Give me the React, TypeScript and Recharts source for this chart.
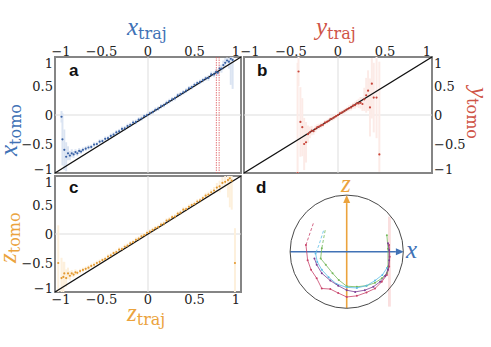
import React from "react";
import { ScatterChart, Scatter, XAxis, YAxis, ErrorBar, ReferenceLine, ReferenceArea, ReferenceDot } from "recharts";

const TICKS = [-1, -0.5, 0, 0.5, 1];

// panel a: x_traj vs x_tomo (errors: one value, or [below, above])
const aTraj = [-0.93, -0.92, -0.9, -0.88, -0.86, -0.84, -0.82, -0.8, -0.78, -0.76, -0.74, -0.72, -0.7, -0.67, -0.64, -0.61, -0.58, -0.55, -0.52, -0.49, -0.46, -0.43, -0.4, -0.37, -0.34, -0.31, -0.28, -0.25, -0.22, -0.19, -0.16, -0.13, -0.1, -0.07, -0.04, -0.01, 0.02, 0.05, 0.08, 0.11, 0.14, 0.17, 0.2, 0.23, 0.26, 0.29, 0.32, 0.35, 0.38, 0.41, 0.44, 0.47, 0.5, 0.53, 0.56, 0.59, 0.62, 0.65, 0.68, 0.71, 0.73, 0.75, 0.77, 0.79, 0.81, 0.83, 0.85, 0.87, 0.89, 0.91];
const aTomo = [-0.03, -0.42, -0.6, -0.72, -0.66, -0.7, -0.66, -0.68, -0.64, -0.66, -0.62, -0.63, -0.6, -0.58, -0.56, -0.55, -0.51, -0.5, -0.46, -0.45, -0.41, -0.4, -0.36, -0.34, -0.3, -0.28, -0.24, -0.23, -0.19, -0.17, -0.13, -0.12, -0.08, -0.06, -0.02, 0, 0.03, 0.05, 0.09, 0.11, 0.15, 0.17, 0.21, 0.24, 0.27, 0.29, 0.34, 0.36, 0.39, 0.42, 0.46, 0.48, 0.52, 0.55, 0.57, 0.6, 0.63, 0.64, 0.7, 0.7, 0.74, 0.73, 0.8, 0.8, 0.86, 0.9, 0.94, 0.92, 0.97, 0.95];
const aErr = [0.1, 0.45, 0.35, 0.25, 0.12, 0.08, 0.07, 0.06, 0.05, 0.05, 0.05, 0.04, 0.04, 0.04, 0.04, 0.04, 0.04, 0.04, 0.04, 0.04, 0.04, 0.04, 0.04, 0.04, 0.04, 0.04, 0.04, 0.04, 0.04, 0.04, 0.04, 0.04, 0.04, 0.04, 0.04, 0.04, 0.04, 0.04, 0.04, 0.04, 0.04, 0.04, 0.04, 0.04, 0.04, 0.04, 0.04, 0.04, 0.04, 0.04, 0.04, 0.04, 0.04, 0.04, 0.04, 0.04, 0.04, 0.05, 0.05, 0.05, 0.05, 0.06, 0.06, 0.07, 0.08, 0.08, 0.05, [0.12, 0.06], [0.45, 0.03], [0.5, 0.05]];
const aMarks = [0.735, 0.765];

// panel b: y_traj vs y_tomo
const bTraj = [-0.43, -0.42, -0.4, -0.38, -0.36, -0.34, -0.32, -0.3, -0.28, -0.26, -0.24, -0.22, -0.2, -0.18, -0.16, -0.14, -0.12, -0.1, -0.08, -0.06, -0.04, -0.02, 0, 0.02, 0.04, 0.06, 0.08, 0.1, 0.12, 0.14, 0.16, 0.18, 0.2, 0.22, 0.24, 0.26, 0.28, 0.3, 0.32, 0.34, 0.36, 0.38, 0.41, 0.44];
const bTomo = [-1, 0.75, -0.12, -0.21, -0.5, -0.47, -0.33, -0.3, -0.27, -0.28, -0.24, -0.21, -0.2, -0.18, -0.17, -0.13, -0.12, -0.1, -0.07, -0.06, -0.04, -0.02, 0, 0.03, 0.04, 0.06, 0.08, 0.1, 0.12, 0.13, 0.16, 0.17, 0.2, 0.2, 0.21, 0.19, 0.27, 0.34, 0.42, 0.13, 0.54, 0.3, 0.3, -0.68];
const bErr = [[0, 1.9], 0.25, 0.6, 0.5, 0.45, 0.35, 0.15, 0.1, 0.08, 0.06, 0.06, 0.05, 0.05, 0.05, 0.04, 0.04, 0.04, 0.04, 0.04, 0.04, 0.04, 0.04, 0.04, 0.04, 0.04, 0.04, 0.04, 0.04, 0.05, 0.05, 0.05, 0.06, 0.06, 0.08, 0.1, 0.12, 0.2, 0.3, 0.35, 0.5, [0.6, 0.44], 0.6, 0.7, [0.3, 1.6]];

// panel c: z_traj vs z_tomo
const cTraj = [-0.965, -0.93, -0.91, -0.9, -0.88, -0.86, -0.84, -0.82, -0.8, -0.78, -0.76, -0.73, -0.7, -0.67, -0.64, -0.61, -0.58, -0.55, -0.52, -0.49, -0.46, -0.43, -0.4, -0.37, -0.34, -0.31, -0.28, -0.25, -0.22, -0.19, -0.16, -0.13, -0.1, -0.07, -0.04, -0.01, 0.02, 0.05, 0.08, 0.11, 0.14, 0.17, 0.2, 0.23, 0.26, 0.29, 0.32, 0.35, 0.38, 0.41, 0.44, 0.47, 0.5, 0.53, 0.56, 0.59, 0.62, 0.65, 0.68, 0.71, 0.74, 0.77, 0.8, 0.83, 0.86, 0.88, 0.9, 0.935];
const cTomo = [-0.5, -0.76, -0.74, -0.68, -0.76, -0.68, -0.72, -0.68, -0.7, -0.66, -0.67, -0.64, -0.62, -0.6, -0.58, -0.55, -0.53, -0.5, -0.48, -0.45, -0.43, -0.39, -0.37, -0.33, -0.31, -0.27, -0.26, -0.22, -0.2, -0.16, -0.14, -0.1, -0.08, -0.04, -0.02, 0.02, 0.04, 0.07, 0.1, 0.12, 0.16, 0.18, 0.23, 0.25, 0.29, 0.3, 0.35, 0.37, 0.42, 0.43, 0.47, 0.5, 0.52, 0.56, 0.58, 0.62, 0.66, 0.68, 0.72, 0.75, 0.8, 0.82, 0.88, 0.9, 0.93, 0.96, 0.92, -0.5];
const cErr = [[0.5, 0.65], [0.24, 0.35], 0.26, 0.2, 0.15, 0.1, 0.08, 0.06, 0.05, 0.05, 0.04, 0.04, 0.04, 0.04, 0.04, 0.04, 0.04, 0.04, 0.04, 0.04, 0.04, 0.04, 0.04, 0.04, 0.04, 0.04, 0.04, 0.04, 0.04, 0.04, 0.04, 0.04, 0.04, 0.04, 0.04, 0.04, 0.04, 0.04, 0.04, 0.04, 0.04, 0.04, 0.04, 0.04, 0.04, 0.04, 0.04, 0.04, 0.04, 0.04, 0.04, 0.04, 0.04, 0.04, 0.04, 0.04, 0.05, 0.05, 0.05, 0.06, 0.08, 0.1, 0.1, 0.1, [0.3, 0.07], [0.5, 0.04], [0.5, 0.08], [0.5, 0.6]];

// panel d: trajectories in the x-z plane
const redDashX = [-0.59, -0.72];
const redDashZ = [0.5, 0.12];
const redX = [-0.72, -0.69, -0.63, -0.53, -0.44, -0.29, -0.15, 0, 0.18, 0.35, 0.5, 0.62, 0.71, 0.75, 0.76, 0.75];
const redZ = [0.12, -0.15, -0.32, -0.47, -0.65, -0.66, -0.73, -0.8, -0.78, -0.72, -0.65, -0.53, -0.41, -0.26, -0.09, 0.12];
const purpleX = [-0.57, -0.53, -0.44, -0.29, -0.15, 0, 0.15, 0.32, 0.47, 0.59, 0.68, 0.73, 0.75, 0.75, 0.73];
const purpleZ = [-0.12, -0.23, -0.38, -0.51, -0.6, -0.68, -0.71, -0.68, -0.62, -0.53, -0.43, -0.32, -0.15, 0.03, 0.15];
const cyanDashX = [-0.41, -0.49, -0.55];
const cyanDashZ = [0.37, 0.12, -0.03];
const cyanX = [-0.55, -0.52, -0.44, -0.32, -0.18, 0, 0.18, 0.35, 0.5, 0.63, 0.71];
const cyanZ = [-0.03, -0.18, -0.32, -0.45, -0.57, -0.63, -0.64, -0.6, -0.51, -0.41, -0.29];
const greenDashX = [-0.38, -0.44];
const greenDashZ = [0.38, 0.06];
const greenX = [-0.44, -0.46, -0.37, -0.25, -0.14, 0, 0.18, 0.35, 0.5, 0.62, 0.71, 0.73, 0.73, 0.71];
const greenZ = [0.06, -0.12, -0.23, -0.38, -0.5, -0.61, -0.62, -0.6, -0.55, -0.47, -0.38, -0.26, 0.05, 0.29];
const dBand = [0.73, 0.78, -0.97, 0.62];

const BLUE = "#4172b6";
const RED = "#cf5447";
const ORANGE = "#eba33d";

type Err = number | number[];

const zip = (xs: number[], ys: number[], es?: Err[]) =>
  xs.map((x, i) => ({ x, y: ys[i], e: es ? es[i] : 0 }));

const fmt = (v: number) => (v < 0 ? `\u2212${Math.abs(v)}` : `${v}`);
const tickStyle = { fill: "#222", fontSize: 13, fontFamily: "DejaVu Serif" };

// end labels sit a little inside the frame, like the original
const makeTick = (side: "top" | "bottom" | "left" | "right") => (p: any) => {
  const v = p.payload.value;
  let dx = 0;
  let dy = 0;
  if (side === "top" || side === "bottom") dx = v === -1 ? 6 : v === 1 ? -5 : 0;
  else dy = v === 1 ? 6 : v === -1 ? -4 : 0;
  const anchor = side === "left" ? "end" : side === "right" ? "start" : "middle";
  const base = side === "top" ? "0" : side === "bottom" ? "0.71em" : "0.36em";
  return (
    <text x={p.x + dx} y={p.y + dy} dy={base} textAnchor={anchor} {...tickStyle}>
      {fmt(v)}
    </text>
  );
};

const dot = (color: string, r = 1.1) => (p: any) => <circle cx={p.cx} cy={p.cy} r={r} fill={color} />;
const noDot = () => <g />;

const arrow = (color: string) => (p: any) => {
  const { x1, y1, x2, y2 } = p;
  const a = Math.atan2(y2 - y1, x2 - x1);
  const L = 8;
  const W = 3.5;
  const bx = x2 - L * Math.cos(a);
  const by = y2 - L * Math.sin(a);
  const pts = `${x2},${y2} ${bx - W * Math.sin(a)},${by + W * Math.cos(a)} ${bx + W * Math.sin(a)},${by - W * Math.cos(a)}`;
  return (
    <g>
      <line x1={x1} y1={y1} x2={bx} y2={by} stroke={color} strokeWidth={1.6} />
      <polygon points={pts} fill={color} />
    </g>
  );
};

type PanelProps = {
  data: { x: number; y: number; e: Err }[];
  dotColor: string;
  barColor: string;
  xSide: "top" | "bottom";
  ySide: "left" | "right";
  width: number;
  height: number;
  margin: { top: number; right: number; bottom: number; left: number };
  marks?: number[];
};

function Panel({ data, dotColor, barColor, xSide, ySide, width, height, margin, marks = [] }: PanelProps) {
  return (
    <ScatterChart width={width} height={height} margin={margin}>
      <XAxis
        type="number"
        dataKey="x"
        orientation={xSide}
        domain={[-1, 1]}
        ticks={TICKS}
        tick={makeTick(xSide)}
        tickLine={false}
        axisLine={false}
        tickSize={0}
        tickMargin={xSide === "top" ? 1 : 3}
        height={20}
        allowDataOverflow
        interval={0}
      />
      <YAxis
        type="number"
        dataKey="y"
        orientation={ySide}
        domain={[-1, 1]}
        ticks={TICKS}
        tick={makeTick(ySide)}
        tickLine={false}
        axisLine={false}
        tickSize={0}
        tickMargin={2}
        width={40}
        allowDataOverflow
        interval={0}
      />
      <ReferenceLine x={0} stroke="#dddddd" strokeWidth={1} />
      <ReferenceLine y={0} stroke="#dddddd" strokeWidth={1} />
      <Scatter data={data} fill={dotColor} shape={dot(dotColor)} isAnimationActive={false}>
        <ErrorBar dataKey="e" direction="y" width={0} stroke={barColor} strokeWidth={2} />
      </Scatter>
      {marks.map((m) => (
        <ReferenceLine key={m} x={m} stroke="#e0585a" strokeWidth={0.8} strokeDasharray="1.5 1" />
      ))}
      <ReferenceLine
        segment={[{ x: -1, y: -1 }, { x: 1, y: 1 }]}
        stroke="#111"
        strokeWidth={1.4}
        ifOverflow="visible"
      />
      <ReferenceArea x1={-1} x2={1} y1={-1} y2={1} fill="none" stroke="#858585" strokeWidth={2} ifOverflow="visible" />
    </ScatterChart>
  );
}

const D_SIZE = 113.2;

function Bloch() {
  const traj = (xs: number[], zs: number[], color: string, dashed = false) => (
    <Scatter
      data={zip(xs, zs)}
      fill={color}
      line={{ stroke: color, strokeWidth: 0.8, strokeDasharray: dashed ? "3 2" : undefined }}
      lineType="joint"
      shape={dashed ? noDot : dot(color, 1)}
      isAnimationActive={false}
    />
  );
  return (
    <ScatterChart width={170} height={160} margin={{ top: 25.1, right: 36.7, bottom: 21.7, left: 20.1 }}>
      <XAxis type="number" dataKey="x" domain={[-1, 1]} hide allowDataOverflow />
      <YAxis type="number" dataKey="y" domain={[-1, 1]} hide allowDataOverflow />
      <ReferenceArea x1={dBand[0]} x2={dBand[1]} y1={dBand[2]} y2={dBand[3]} fill="#f4b8b8" fillOpacity={0.45} stroke="none" />
      <ReferenceDot x={0} y={0} r={D_SIZE / 2} fill="none" stroke="#4a4a4a" strokeWidth={1} ifOverflow="visible" />
      <ReferenceLine segment={[{ x: 0, y: -1 }, { x: 0, y: 1 }]} stroke={ORANGE} shape={arrow(ORANGE)} ifOverflow="visible" />
      <ReferenceLine segment={[{ x: -1, y: 0 }, { x: 1.01, y: 0 }]} stroke={BLUE} shape={arrow(BLUE)} ifOverflow="visible" />
      {traj(redDashX, redDashZ, "#c8436a", true)}
      {traj(redX, redZ, "#c8436a")}
      {traj(greenDashX, greenDashZ, "#74b85a", true)}
      {traj(greenX, greenZ, "#74b85a")}
      {traj(cyanDashX, cyanDashZ, "#5bbce6", true)}
      {traj(cyanX, cyanZ, "#5bbce6")}
      {traj(purpleX, purpleZ, "#7b3d94")}
    </ScatterChart>
  );
}

const math = { fontFamily: "Liberation Serif", fontSize: 25, style: { fontStyle: "italic" as const } };
const sub = { fontFamily: "DejaVu Serif", fontSize: 16 };
const letter = { fontFamily: "Liberation Sans", fontWeight: 700, fontSize: 17, fill: "#111" };

export default function App() {
  return (
    <div style={{ position: "absolute", left: 0, top: 0, width: 491, height: 347, background: "#fff", overflow: "hidden" }}>
      <div style={{ position: "absolute", left: 0, top: 0 }}>
        <Panel
          data={zip(aTraj, aTomo, aErr)}
          dotColor="#3b63a6"
          barColor="#dbe4f2"
          xSide="top"
          ySide="left"
          width={250}
          height={180}
          margin={{ top: 37, right: 9, bottom: 7, left: 15 }}
          marks={aMarks}
        />
      </div>
      <div style={{ position: "absolute", left: 200, top: 0 }}>
        <Panel
          data={zip(bTraj, bTomo, bErr)}
          dotColor="#c8453a"
          barColor="#fcebe7"
          xSide="top"
          ySide="right"
          width={291}
          height={180}
          margin={{ top: 37, right: 19, bottom: 7, left: 44 }}
        />
      </div>
      <div style={{ position: "absolute", left: 0, top: 150 }}>
        <Panel
          data={zip(cTraj, cTomo, cErr)}
          dotColor="#e39a32"
          barColor="#fdf0dc"
          xSide="bottom"
          ySide="left"
          width={250}
          height={170}
          margin={{ top: 26, right: 9, bottom: 8, left: 15 }}
        />
      </div>
      <div style={{ position: "absolute", left: 270, top: 170 }}>
        <Bloch />
      </div>
      <svg width={491} height={347} style={{ position: "absolute", left: 0, top: 0, pointerEvents: "none" }}>
        <text x={127} y={35} fill={BLUE}>
          <tspan {...math}>x</tspan>
          <tspan {...sub} dy={4}>traj</tspan>
        </text>
        <text x={316} y={35} fill={RED}>
          <tspan {...math}>y</tspan>
          <tspan {...sub} dy={4}>traj</tspan>
        </text>
        <text x={127} y={321} fill={ORANGE}>
          <tspan {...math}>z</tspan>
          <tspan {...sub} dy={4}>traj</tspan>
        </text>
        <text transform="translate(17,156) rotate(-90)" fill={BLUE}>
          <tspan {...math}>x</tspan>
          <tspan {...sub} dy={4}>tomo</tspan>
        </text>
        <text transform="translate(16,263) rotate(-90)" fill={ORANGE}>
          <tspan {...math}>z</tspan>
          <tspan {...sub} dy={4}>tomo</tspan>
        </text>
        <text transform="translate(471,87) rotate(90)" fill={RED}>
          <tspan {...math}>y</tspan>
          <tspan {...sub} dy={4}>tomo</tspan>
        </text>
        <text x={341} y={192} fill={ORANGE} {...math}>z</text>
        <text x={406} y={258} fill={BLUE} {...math}>x</text>
        <text x={69} y={76} {...letter}>a</text>
        <text x={257} y={76} {...letter}>b</text>
        <text x={69} y={193} {...letter}>c</text>
        <text x={256} y={193} {...letter}>d</text>
      </svg>
    </div>
  );
}
